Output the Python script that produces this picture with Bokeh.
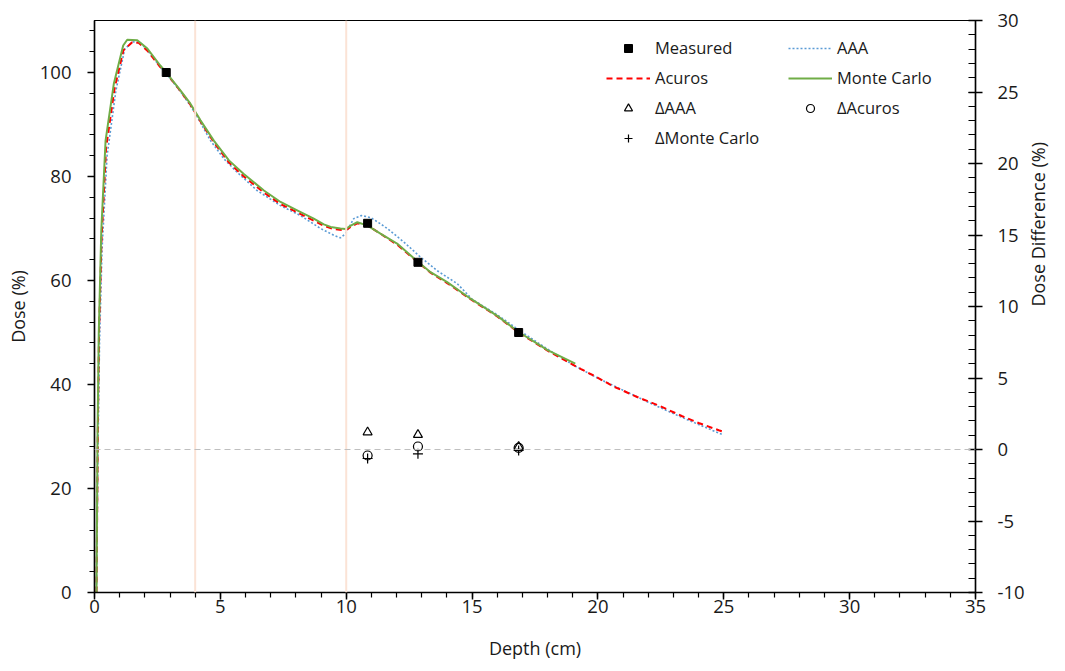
import math
from bokeh.plotting import figure
from bokeh.models import (Range1d, LinearAxis, SingleIntervalTicker, Span, Legend,
                          LegendItem, PrintfTickFormatter)
from bokeh.embed import file_html
from bokeh.resources import INLINE

# ---------------- data ----------------
mc_depth = [0.08, 0.12, 0.17, 0.27, 0.44, 0.77, 1.14, 1.3, 1.7, 2.1, 2.62, 2.85, 3.42, 3.81,
            4.21, 4.74, 5.34, 5.93, 6.73, 7.39, 8.05, 8.71, 9.11, 9.38, 9.77, 9.97, 10.2,
            10.44, 10.83, 11.36, 12.02, 12.85, 13.35, 14.01, 14.94, 16.0, 16.85, 18.0, 19.1]
mc_dose = [0, 30, 50, 69.6, 86.9, 97.9, 105.2, 106.3, 106.2, 104.6, 101.3, 100.0, 96.5, 94.0,
           90.8, 86.9, 83.1, 80.5, 77.3, 75.1, 73.5, 71.9, 70.8, 70.3, 70.0, 69.9, 70.6,
           71.2, 70.6, 69.0, 67.1, 63.6, 61.6, 59.7, 56.5, 53.2, 50.1, 46.6, 44.0]

acuros_depth = [0.08, 0.13, 0.18, 0.28, 0.46, 0.8, 1.15, 1.5, 1.75, 2.1, 2.62, 2.85, 3.42, 3.81,
                4.21, 4.74, 5.34, 5.93, 6.73, 7.39, 8.05, 8.71, 9.11, 9.5, 9.97, 10.2, 10.44,
                10.83, 11.36, 12.02, 12.85, 13.35, 14.01, 14.94, 16.0, 16.85, 18.0, 19.31,
                19.84, 20.63, 21.56, 22.49, 23.35, 24.0, 24.8, 25.0]
acuros_dose = [0, 30, 50, 68, 85.5, 97, 104.3, 105.8, 105.7, 104.2, 101.0, 99.9, 96.4, 93.8,
               90.6, 86.6, 82.7, 80.0, 76.9, 74.7, 73.1, 71.5, 70.5, 69.9, 69.6, 70.4, 71.0,
               70.6, 69.0, 66.9, 63.5, 61.5, 59.5, 56.4, 53.1, 50.0, 46.5, 43.0,
               41.7, 39.6, 37.6, 35.8, 33.9, 32.6, 31.2, 30.9]

aaa_depth = [0.08, 0.14, 0.2, 0.3, 0.5, 0.85, 1.2, 1.5, 1.8, 2.1, 2.62, 2.85, 3.42, 3.81, 4.01,
             4.61, 5.14, 5.67, 6.46, 7.39, 8.18, 8.98, 9.51, 9.77, 9.97, 10.3, 10.6, 10.97,
             11.36, 11.63, 12.29, 12.95, 13.61, 14.41, 15.0, 16.0, 17.0, 18.0, 19.0, 20.0,
             21.0, 22.0, 23.0, 24.0, 24.93]
aaa_dose = [0, 28, 48, 66, 84, 96.5, 104.5, 105.9, 105.8, 104.3, 101.0, 99.8, 96.3, 93.6, 92.1,
            86.9, 83.4, 80.8, 77.3, 74.4, 72.5, 70.0, 68.7, 68.2, 69.0, 71.9, 72.5, 72.1,
            70.9, 70.0, 67.4, 64.5, 61.9, 59.4, 56.4, 53.4, 50.0, 46.8, 43.8, 41.2,
            38.9, 36.6, 34.4, 32.3, 30.4]

meas_depth = [2.85, 10.85, 12.85, 16.85]
meas_dose = [100.0, 71.0, 63.5, 50.0]

diff_depth = [10.85, 12.85, 16.85]
diff_aaa = [1.21, 1.03, 0.2]
diff_acuros = [-0.42, 0.21, 0.12]
diff_mc = [-0.63, -0.3, -0.07]

interface_depths = [4, 10]

FONT = "Open Sans"
TXT = "#1a1a1a"

p = figure(width=1064, height=670, output_backend="svg", toolbar_location=None,
           x_range=Range1d(0, 35), y_range=Range1d(0, 110),
           min_border_left=94, min_border_right=89, min_border_top=20, min_border_bottom=78)
p.extra_y_ranges = {"diff": Range1d(-10, 30)}
p.xgrid.visible = False
p.ygrid.visible = False
p.outline_line_color = "black"
p.outline_line_width = 1.2
p.background_fill_color = "white"
p.border_fill_color = "white"

for d in interface_depths:
    p.add_layout(Span(location=d, dimension="height", line_color="#fbe3d6", line_width=2))
p.add_layout(Span(location=0, dimension="width", y_range_name="diff",
                  line_color="#bfbfbf", line_width=1.2, line_dash="6 4"))

r_aaa = p.line(aaa_depth, aaa_dose, line_color="#5b9bd5", line_width=1.6, line_dash="2 2")
r_acu = p.line(acuros_depth, acuros_dose, line_color="#ff0000", line_width=2, line_dash="6 4")
r_mc = p.line(mc_depth, mc_dose, line_color="#70ad47", line_width=2)
r_meas = p.scatter(meas_depth, meas_dose, marker="square", size=8, fill_color="black",
                   line_color="black")
r_daaa = p.scatter(diff_depth, diff_aaa, marker="triangle", size=9, fill_color=None,
                   line_color="black", line_width=1.2, y_range_name="diff")
r_dacu = p.scatter(diff_depth, diff_acuros, marker="circle", size=9, fill_color=None,
                   line_color="black", line_width=1.2, y_range_name="diff")
r_dmc = p.scatter(diff_depth, diff_mc, marker="cross", size=10, line_color="black",
                  line_width=1.2, y_range_name="diff")

def style_axis(ax):
    ax.axis_line_color = "black"
    ax.axis_line_width = 1.5
    ax.major_tick_line_color = "black"
    ax.minor_tick_line_color = "black"
    ax.major_tick_line_width = 1.5
    ax.minor_tick_line_width = 1.2
    ax.major_label_text_font = FONT
    ax.major_label_text_font_size = "18.5px"
    ax.major_label_text_color = TXT
    ax.axis_label_text_font = FONT
    ax.axis_label_text_font_size = "18px"
    ax.axis_label_text_font_style = "normal"
    ax.axis_label_text_color = TXT

xa = p.xaxis[0]
xa.ticker = SingleIntervalTicker(interval=5, num_minor_ticks=5)
xa.axis_label = "Depth (cm)"
style_axis(xa)
xa.major_tick_in = 0
xa.major_tick_out = 7
xa.minor_tick_in = 0
xa.minor_tick_out = 5
xa.major_label_standoff = 0
xa.axis_label_standoff = 20

ya = p.yaxis[0]
ya.ticker = SingleIntervalTicker(interval=20, num_minor_ticks=5)
ya.axis_label = "Dose (%)"
style_axis(ya)
ya.major_tick_in = 0
ya.major_tick_out = 7
ya.minor_tick_in = 0
ya.minor_tick_out = 5
ya.major_label_standoff = 16
ya.axis_label_standoff = 7

ra = LinearAxis(y_range_name="diff", axis_label="Dose Difference (%)",
                ticker=SingleIntervalTicker(interval=5, num_minor_ticks=5),
                formatter=PrintfTickFormatter(format="%d"))
style_axis(ra)
ra.major_tick_in = 7
ra.major_tick_out = 7
ra.minor_tick_in = 7
ra.minor_tick_out = 0
ra.major_label_standoff = 15
ra.axis_label_standoff = 10
try:
    ra.axis_label_orientation = math.pi / 2
except Exception:
    pass
p.add_layout(ra, "right")

def make_legend(items, loc):
    return Legend(items=items, location=loc, orientation="vertical",
                  glyph_width=44, glyph_height=20, label_height=20, label_standoff=5,
                  spacing=7, padding=0, margin=0, border_line_color=None,
                  background_fill_alpha=0, label_text_font=FONT,
                  label_text_font_size="16.5px", label_text_color=TXT)

leg1 = make_legend([LegendItem(label="Measured", renderers=[r_meas]),
                    LegendItem(label="Acuros", renderers=[r_acu]),
                    LegendItem(label="ΔAAA", renderers=[r_daaa]),
                    LegendItem(label="ΔMonte Carlo", renderers=[r_dmc])], (512, 443))
leg2 = make_legend([LegendItem(label="AAA", renderers=[r_aaa]),
                    LegendItem(label="Monte Carlo", renderers=[r_mc]),
                    LegendItem(label="ΔAcuros", renderers=[r_dacu])], (694, 473))
p.add_layout(leg1, "center")
p.add_layout(leg2, "center")

open("out.html", "w").write(file_html(p, INLINE))
